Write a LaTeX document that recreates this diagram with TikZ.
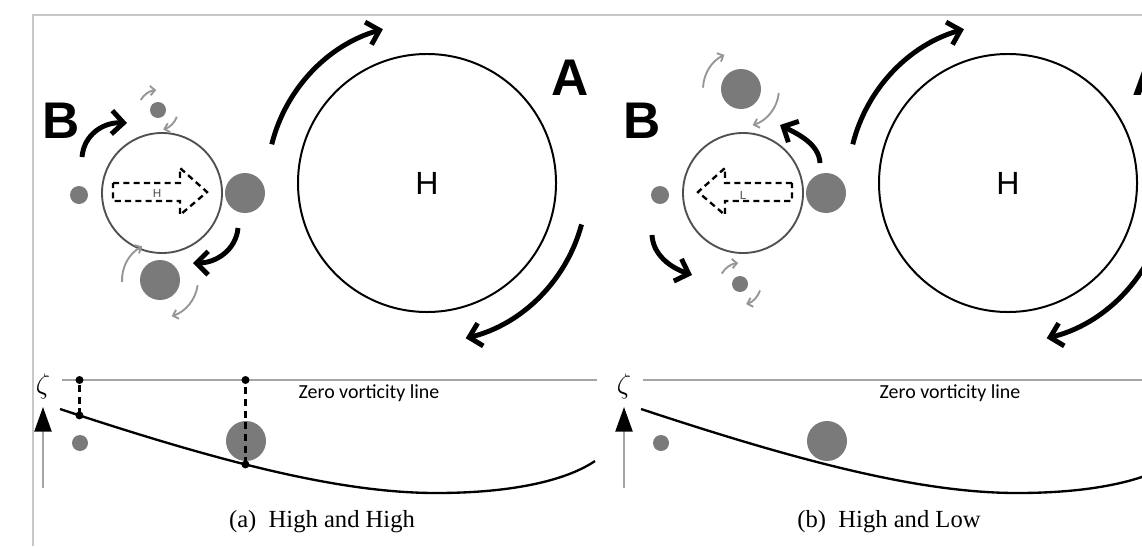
\documentclass[tikz,border=0pt]{standalone}
\usepackage{fontspec}
\usepackage{tikz}
\usetikzlibrary{arrows.meta}
\newfontfamily\arialfont{Liberation Sans}
\newfontfamily\timesfont{Liberation Serif}
\newfontfamily\calfont{Carlito}
\definecolor{dotgray}{RGB}{122,122,122}
\definecolor{arrgray}{RGB}{150,150,150}
\definecolor{ringgray}{RGB}{80,80,80}
\definecolor{linegray}{RGB}{165,165,165}
\definecolor{framegray}{RGB}{200,200,200}
\tikzset{
  hicirc/.style={circle, draw, line width=0.85pt, minimum size=3.87cm, inner sep=0pt, font=\arialfont\fontsize{13.7}{14}\selectfont},
  locirc/.style={circle, draw=ringgray, line width=0.8pt, minimum size=1.8cm, inner sep=0pt},
  biglet/.style={font=\arialfont\bfseries\fontsize{22}{24}\selectfont, inner sep=0pt},
  tinylet/.style={font=\arialfont\fontsize{5}{6}\selectfont, text=ringgray, inner sep=0pt},
  bigarr/.style={line width=2.1pt, -{Straight Barb[length=5pt,width=10pt]}},
  spinarr/.style={arrgray, line width=0.8pt, -{Straight Barb[length=2pt,width=4pt]}},
  dashbox/.style={line width=1pt, dash pattern=on 2.6pt off 1.8pt},
  vdash/.style={line width=1.1pt, dash pattern=on 3pt off 2pt},
  zline/.style={linegray, line width=0.6pt},
  zlabel/.style={font=\calfont\fontsize{8.5}{9}\selectfont, inner sep=0pt},
  zeta/.style={font=\fontsize{12}{12}\selectfont, inner sep=0pt},
  axis/.style={linegray, line width=0.8pt, -{Triangle[length=10.5pt,width=7.3pt,color=black]}},
  vcurve/.style={line width=1pt},
  capt/.style={font=\timesfont\fontsize{10.5}{12}\selectfont, inner sep=0pt}
}
\begin{document}
\begin{tikzpicture}[x=0.015cm, y=0.015cm]
  \useasboundingbox (0,0) rectangle (1142,546);
  \clip (0,0) rectangle (1142,546);
  \fill[white] (0,0) rectangle (1142,546);
  \draw[framegray, line width=0.6pt] (1142,531) -- (33,531) -- (33,0);

  \begin{scope}
    \node[hicirc] (hiA) at (427,363) {H};
    \node[biglet] (labA) at (570,468) {A};
    \node[biglet] (labB) at (61,425) {B};
    \node[locirc] (loB) at (162,353) {};
    \node[tinylet] (txtB) at ([shift={(-5,0)}]loB.center) {H};
    \draw[dashbox] ([shift={(-49,10)}]loB.center) -- ++(67,0) -- ++(0,15) -- ++(27,-24) -- ++(-27,-23) -- ++(0,14) -- ++(-67,0) -- cycle;
    \coordinate (dL) at (79,351);
    \coordinate (dR) at (245,353);
    \coordinate (dT) at (158,436);
    \coordinate (dB) at (160,266);
    \fill[dotgray] (dL) circle[radius=9];
    \fill[dotgray] (dR) circle[radius=20];
    \fill[dotgray] (dT) circle[radius=8];
    \fill[dotgray] (dB) circle[radius=20];
    \draw[bigarr] ([shift={(166:160)}]hiA.center) arc[start angle=166, end angle=106, radius=160];
    \draw[bigarr] ([shift={(-15:160)}]hiA.center) arc[start angle=-15, end angle=-76, radius=160];
    \draw[bigarr] (82,389) .. controls (84,412) and (104,424) .. (127,423);
    \draw[bigarr] (238,318) .. controls (236,296) and (216,283) .. (193,283);
    \draw[spinarr] ([shift={(150:20)}]dT) arc[start angle=150, end angle=95, radius=20];
    \draw[spinarr] ([shift={(-20:20)}]dT) arc[start angle=-20, end angle=-75, radius=20];
    \draw[spinarr] ([shift={(183:38)}]dB) arc[start angle=183, end angle=118, radius=38];
    \draw[spinarr] ([shift={(-8:38)}]dB) arc[start angle=-8, end angle=-72, radius=38];

    \coordinate (z0) at (62,166);
    \coordinate (z1) at (597,166);
    \draw[zline] (z0) -- (z1);
    \node[zlabel] (ztxt) at (369,153) {Zero vorticity line};
    \node[zeta] (zt) at (43,160) {$\zeta$};
    \draw[axis] (43,58) -- (43,139);
    \fill[dotgray] (80,103) circle[radius=8];
    \fill[dotgray] (246,105) circle[radius=20];
    \draw[vcurve] (60,137) .. controls (220,84) and (340,53) .. (436,53) coordinate[pos=0.041] (v1) coordinate[pos=0.43] (v2) .. controls (520,53) and (570,68) .. (595,85);
    \draw[vdash] (v1) -- (v1 |- z0);
    \draw[vdash] (v2) -- (v2 |- z0);
    \fill (v1) circle[radius=4];
    \fill (v1 |- z0) circle[radius=4];
    \fill (v2) circle[radius=4];
    \fill (v2 |- z0) circle[radius=4];
    \node[capt] (capA) at (322,24) {(a)\ \ High and High};
  \end{scope}

  \begin{scope}[shift={(581,0)}]
    \node[hicirc] (hiA2) at (427,363) {H};
    \node[biglet] (labA2) at (570,468) {A};
    \node[biglet] (labB2) at (61,425) {B};
    \node[locirc] (loB2) at (162,353) {};
    \node[tinylet] (txtB2) at ([shift={(0,-2)}]loB2.center) {L};
    \draw[dashbox] ([shift={(49,10)}]loB2.center) -- ++(-67,0) -- ++(0,15) -- ++(-27,-24) -- ++(27,-23) -- ++(0,14) -- ++(67,0) -- cycle;
    \coordinate (eL) at (79,351);
    \coordinate (eR) at (245,353);
    \coordinate (eT) at (160,457);
    \coordinate (eB) at (159,262);
    \fill[dotgray] (eL) circle[radius=9];
    \fill[dotgray] (eR) circle[radius=20];
    \fill[dotgray] (eT) circle[radius=20];
    \fill[dotgray] (eB) circle[radius=8];
    \draw[bigarr] ([shift={(166:160)}]hiA2.center) arc[start angle=166, end angle=106, radius=160];
    \draw[bigarr] ([shift={(-15:160)}]hiA2.center) arc[start angle=-15, end angle=-76, radius=160];
    \draw[bigarr] (239,383) .. controls (238,402) and (217,412) .. (199,421);
    \draw[bigarr] (71,311) .. controls (72,292) and (88,279) .. (111,271);
    \draw[spinarr] ([shift={(178:38)}]eT) arc[start angle=178, end angle=116, radius=38];
    \draw[spinarr] ([shift={(-6:38)}]eT) arc[start angle=-6, end angle=-72, radius=38];
    \draw[spinarr] ([shift={(150:21)}]eB) arc[start angle=150, end angle=95, radius=21];
    \draw[spinarr] ([shift={(-18:21)}]eB) arc[start angle=-18, end angle=-73, radius=21];

    \coordinate (w0) at (62,166);
    \coordinate (w1) at (700,166);
    \draw[zline] (w0) -- (w1);
    \node[zlabel] (ztxt2) at (369,153) {Zero vorticity line};
    \node[zeta] (zt2) at (43,160) {$\zeta$};
    \draw[axis] (43,58) -- (43,139);
    \fill[dotgray] (80,103) circle[radius=8];
    \fill[dotgray] (246,105) circle[radius=20];
    \draw[vcurve] (60,137) .. controls (220,84) and (340,53) .. (436,53) .. controls (520,53) and (570,68) .. (595,85);
    \node[capt] (capB) at (308,24) {(b)\ \ High and Low};
  \end{scope}
\end{tikzpicture}
\end{document}
